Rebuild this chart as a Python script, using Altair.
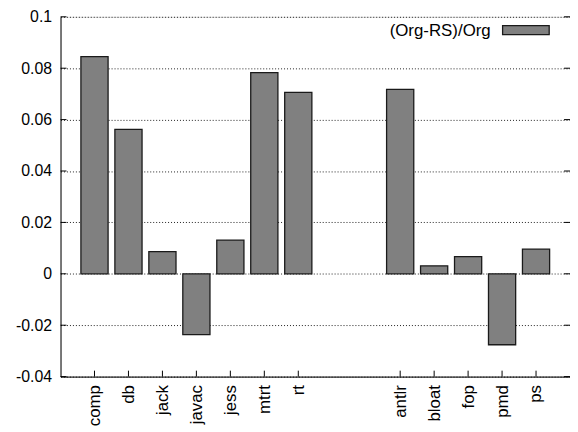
import altair as alt
import pandas as pd

# ---- data ----
benchmarks = ["comp", "db", "jack", "javac", "jess", "mtrt", "rt",
              "antlr", "bloat", "fop", "pmd", "ps"]
suite = ["SPEC"] * 7 + ["DaCapo"] * 5
ratio = [0.0845, 0.0562, 0.0086, -0.0237, 0.0131, 0.0783, 0.0706,
         0.0718, 0.0031, 0.0067, -0.0276, 0.0096]
series_name = "(Org-RS)/Org"
y_ticks = [-0.04, -0.02, 0, 0.02, 0.04, 0.06, 0.08, 0.1]

GAP = 2  # empty slots between the two suites
pos = [i + (GAP if s == "DaCapo" else 0) for i, s in enumerate(suite)]
df = pd.DataFrame({"name": benchmarks, "value": ratio, "pos": pos})
ticks_df = pd.DataFrame({"t": y_ticks})

label_arr = [""] * (max(pos) + 1)
for p, n in zip(pos, benchmarks):
    label_arr[p] = n
label_expr = "[" + ",".join("'%s'" % s for s in label_arr) + "][datum.value]"

W, H = 514, 363
FONT = "Liberation Sans"
FS = 17
FSY = 16

xscale = alt.Scale(domain=[-1, max(pos) + 1], nice=False, zero=False)
yscale = alt.Scale(domain=[-0.04, 0.1], nice=False, zero=False)

base = alt.Chart(df)

bars = base.transform_calculate(
    x0="datum.pos - 0.4", x1="datum.pos + 0.4"
).mark_bar(fill="#808080", stroke="#1a1a1a", strokeWidth=1.3).encode(
    x=alt.X("x0:Q", scale=xscale,
            axis=alt.Axis(values=pos, labelExpr=label_expr, labelAngle=270,
                          labelAlign="right", labelBaseline="middle",
                          labelPadding=8, ticks=False, grid=False,
                          title=None, labelFontSize=FS, labelFont=FONT,
                          labelColor="black", domainColor="black")),
    x2="x1:Q",
    y=alt.Y("value:Q", scale=yscale,
            axis=alt.Axis(values=y_ticks,
                          labelExpr="'' + round(datum.value*100)/100",
                          grid=True, gridDash=[1, 2], gridColor="#222222",
                          gridWidth=1, ticks=False, labelPadding=9,
                          title=None, labelFontSize=FSY, labelFont=FONT,
                          labelColor="black", domainColor="black")),
    y2=alt.datum(0),
)

xticks = base.mark_rule(color="black", strokeWidth=1).encode(
    x=alt.X("pos:Q", scale=xscale),
    y=alt.value(H), y2=alt.value(H - 6),
)

lticks = alt.Chart(ticks_df).mark_rule(color="black", strokeWidth=1).encode(
    y=alt.Y("t:Q", scale=yscale), x=alt.value(0), x2=alt.value(6),
)
rticks = alt.Chart(ticks_df).mark_rule(color="black", strokeWidth=1).encode(
    y=alt.Y("t:Q", scale=yscale), x=alt.value(W), x2=alt.value(W - 6),
)

leg_df = pd.DataFrame({"label": [series_name]})
leg_text = alt.Chart(leg_df).mark_text(
    align="right", baseline="middle", fontSize=FS, font=FONT, color="black"
).encode(text="label:N", x=alt.value(434), y=alt.value(14))
leg_box = alt.Chart(leg_df).mark_rect(
    fill="#808080", stroke="#1a1a1a", strokeWidth=1.3
).encode(x=alt.value(446), x2=alt.value(493), y=alt.value(9), y2=alt.value(18))

chart = alt.layer(bars, xticks, lticks, rticks, leg_text, leg_box).properties(
    width=W, height=H,
    autosize=alt.AutoSizeParams(type="none"),
    padding={"left": 53, "top": 7, "right": 0, "bottom": 54},
).configure_view(stroke="black", strokeWidth=1).configure(background="white")

chart.save("out.html", embed_options={"renderer": "svg", "actions": False})
